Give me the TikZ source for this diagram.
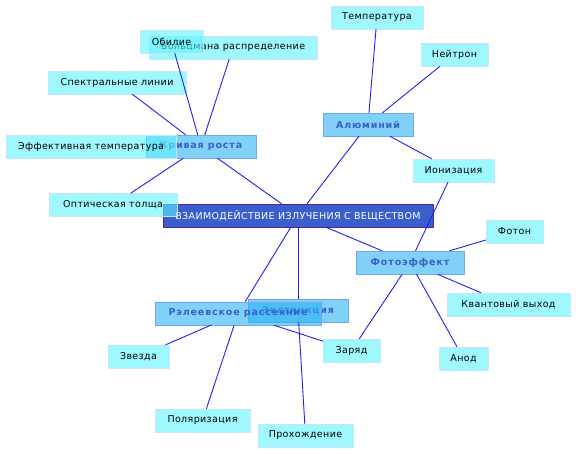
\documentclass[tikz,border=0pt]{standalone}
\usepackage{fontspec}
\setmainfont{DejaVu Sans}
\newfontfamily\mapfont{DejaVu Sans}[LetterSpace=4]
\newfontfamily\hubfont{DejaVu Sans}[LetterSpace=9]
\usepackage{xcolor}
\usetikzlibrary{positioning}
\definecolor{mleaf}{HTML}{61F3FF}
\definecolor{mleafline}{HTML}{C4E4FF}
\definecolor{mhub}{HTML}{2BB1F3}
\definecolor{mhubline}{HTML}{70A8E8}
\definecolor{mhubtext}{HTML}{3A60C8}
\definecolor{mcore}{HTML}{3A5FCD}
\definecolor{mcoreline}{HTML}{4B2AA0}
\definecolor{mlink}{HTML}{2020F0}
\tikzset{
  leafbox/.style={draw=mleafline, fill=mleaf, fill opacity=0.6, draw opacity=1, text opacity=1,
                  minimum height=23pt, inner sep=0pt, font=\mapfont\fontsize{9.5}{11}\selectfont},
  hubbox/.style={draw=mhubline, fill=mhub, fill opacity=0.6, draw opacity=1, text opacity=1, text=mhubtext,
                 minimum height=23pt, inner sep=0pt, font=\hubfont\fontsize{9.5}{11}\selectfont\bfseries},
  corebox/.style={draw=mcoreline, fill=mcore, text=white,
                  minimum height=23pt, inner sep=0pt, font=\mapfont\fontsize{9.5}{11}\selectfont},
  link/.style={mlink, line width=0.9pt},
}

\begin{document}
\begin{tikzpicture}[x=1pt, y=-1pt]
  \useasboundingbox (0,0) rectangle (576,454);

  % centre
  \node[corebox, minimum width=270pt] (core) at (298,215.5)
    {ВЗАИМОДЕЙСТВИЕ ИЗЛУЧЕНИЯ С ВЕЩЕСТВОМ};

  % hubs
  \node[hubbox, minimum width=110pt] (growth) at (201,146.5) {Кривая роста};
  \node[hubbox, minimum width=90pt]  (alu)    at (368,124.5) {Алюминий};
  \node[hubbox, minimum width=108pt] (photo)  at (410,262.5) {Фотоэффект};
  \node[hubbox, minimum width=100pt] (ext)    at (298,310.5) {Экстинкция};
  \node[hubbox, minimum width=166pt] (rayl)   at (238,313.5) {Рэлеевское рассеяние};

  % leaves round the growth curve
  \node[leafbox, minimum width=170pt] (teff)   at (91,146.5)  {Эффективная температура};
  \node[leafbox, minimum width=128pt] (tau)    at (113,205)   {Оптическая толща};
  \node[leafbox, minimum width=168pt] (boltz)  at (233,47.5)  {Больцмана распределение};
  \node[leafbox, minimum width=63pt]  (abund)  at (171.5,41.5) {Обилие};
  \node[leafbox, minimum width=138pt] (lines)  at (117,82.5)  {Спектральные линии};

  % leaves round aluminium
  \node[leafbox, minimum width=92pt] (temp)    at (377,17.5)  {Температура};
  \node[leafbox, minimum width=67pt] (neutron) at (454.5,54.5) {Нейтрон};
  \node[leafbox, minimum width=81pt] (ion)     at (453.5,170.5) {Ионизация};

  % leaves round the photoeffect
  \node[leafbox, minimum width=57pt]  (photon)  at (514.5,231.5) {Фотон};
  \node[leafbox, minimum width=123pt] (yield)   at (508.5,304.5) {Квантовый выход};
  \node[leafbox, minimum width=49pt]  (anode)   at (463.5,358.5) {Анод};
  \node[leafbox, minimum width=57pt]  (charge)  at (351.5,350.5) {Заряд};

  % leaves round scattering
  \node[leafbox, minimum width=61pt] (star)    at (138.5,356.5) {Звезда};
  \node[leafbox, minimum width=95pt] (polar)   at (202.5,420.5) {Поляризация};
  \node[leafbox, minimum width=95pt] (transm)  at (305.5,435.5) {Прохождение};

  % connectors
  \draw[link] (core) -- (growth);
  \draw[link] (core) -- (alu);
  \draw[link] (core) -- (photo);
  \draw[link] (core) -- (rayl);
  \draw[link] (core) -- (ext);
  \draw[link] (growth) -- (abund);
  \draw[link] (growth) -- (boltz);
  \draw[link] (growth) -- (lines);
  \draw[link] (growth) -- (tau);
  \draw[link] (alu) -- (temp);
  \draw[link] (alu) -- (neutron);
  \draw[link] (alu) -- (ion);
  \draw[link] (photo) -- (ion);
  \draw[link] (photo) -- (photon);
  \draw[link] (photo) -- (yield);
  \draw[link] (photo) -- (anode);
  \draw[link] (photo) -- (charge);
  \draw[link] (rayl) -- (star);
  \draw[link] (rayl) -- (polar);
  \draw[link] (rayl) -- (charge);
  \draw[link] (ext) -- (transm);
\end{tikzpicture}
\end{document}
